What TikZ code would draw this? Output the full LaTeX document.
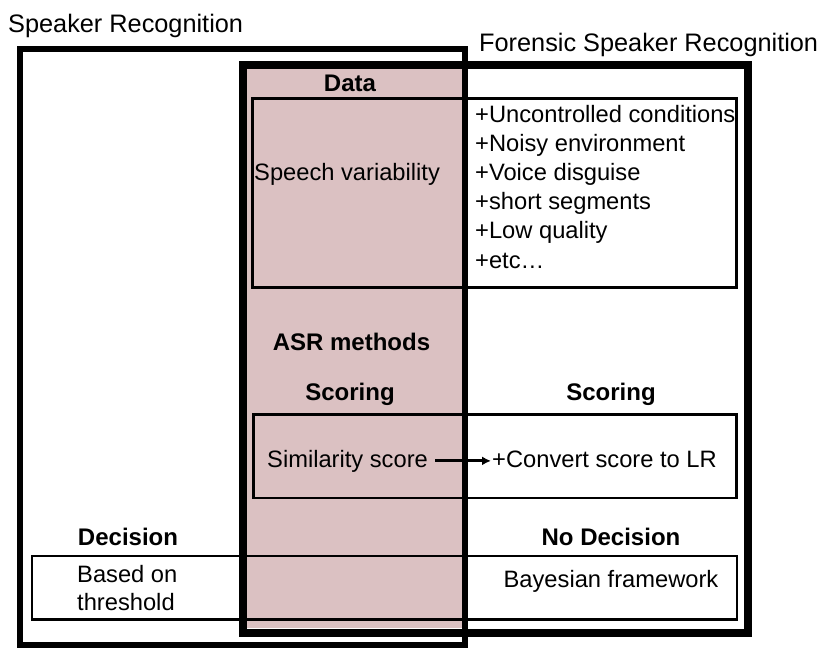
\documentclass[tikz,border=0pt]{standalone}
\usepackage{fontspec}
\setmainfont{Liberation Sans}
\usetikzlibrary{arrows.meta}
\definecolor{pinkfill}{RGB}{219,193,194}
\begin{document}
\begin{tikzpicture}[x=1pt,y=-1pt,
  txt/.style={inner sep=0pt,font=\fontsize{23.7}{29}\selectfont},
  ttl/.style={inner sep=0pt,font=\fontsize{25.3}{30}\selectfont},
  btxt/.style={inner sep=0pt,font=\fontsize{24}{29}\selectfont\bfseries},
  thinbox/.style={draw=black,line width=2.5pt},
  outerbox/.style={draw=black,line width=6pt},
  forbox/.style={draw=black,line width=8pt}]
\useasboundingbox (0,0) rectangle (821,648);
% pink region
\fill[pinkfill] (247,69) rectangle (462,628);
% boxes
\draw[outerbox] (20,48.5) rectangle (465,644.5);
\draw[forbox] (243,65) rectangle (747.5,632.5);
\draw[thinbox] (252.5,98.5) rectangle (736.5,287.5);
\draw[thinbox] (253.5,414.5) rectangle (736.5,498);
\draw[thinbox] (32,556) rectangle (737,619.5);
% titles
\node[ttl,anchor=base west] (sr) at (8,32) {Speaker Recognition};
\node[ttl,anchor=base west] (fsr) at (479,51) {Forensic Speaker Recognition};
% data
\node[btxt,anchor=base] (data) at (350,91) {Data};
\node[txt,anchor=base west] (sv) at (254,180) {Speech variability};
\node[txt,anchor=base west] (l1) at (475,122) {+Uncontrolled conditions};
\node[txt,anchor=base west] (l2) at (475,151.2) {+Noisy environment};
\node[txt,anchor=base west] (l3) at (475,180.4) {+Voice disguise};
\node[txt,anchor=base west] (l4) at (475,209.6) {+short segments};
\node[txt,anchor=base west] (l5) at (475,238.8) {+Low quality};
\node[txt,anchor=base west] (l6) at (475,268) {+etc\ldots};
% methods
\node[btxt,anchor=base] (asr) at (351.5,350) {ASR methods};
\node[btxt,anchor=base] (sc1) at (350,400) {Scoring};
\node[btxt,anchor=base] (sc2) at (611,400) {Scoring};
\node[txt,anchor=base west] (sim) at (267,467) {Similarity score};
\node[txt,anchor=base west] (conv) at (492,467) {+Convert score to LR};
\draw[line width=2.8pt,-{Latex[length=9pt,width=9pt]}] ([xshift=7pt]sim.east) -- ([xshift=-1pt]conv.west |- sim.east);
% decision
\node[btxt,anchor=base] (dec) at (128,545) {Decision};
\node[btxt,anchor=base] (nodec) at (611,545) {No Decision};
\node[txt,anchor=base west] (b1) at (77,582) {Based on};
\node[txt,anchor=base west] (b2) at (77,610) {threshold};
\node[txt,anchor=base] (bay) at (611,587) {Bayesian framework};
\end{tikzpicture}
\end{document}
